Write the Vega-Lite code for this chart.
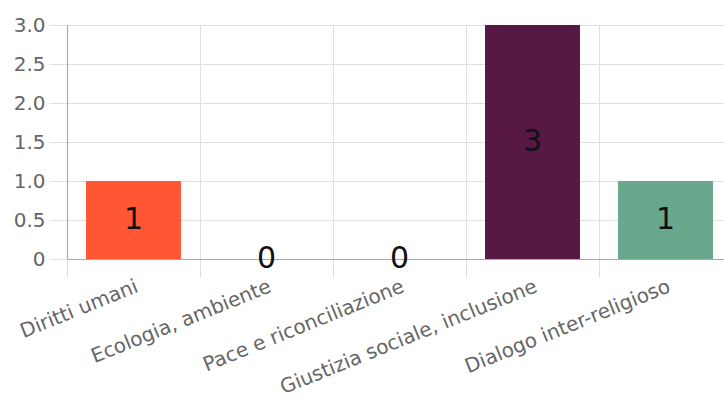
{
  "$schema": "https://vega.github.io/schema/vega-lite/v6.json",
  "autosize": {"type": "none"},
  "width": 665,
  "height": 234,
  "padding": {"left": 67, "top": 25, "right": 0, "bottom": 151},
  "background": "white",
  "config": {"view": {"stroke": null}, "font": "DejaVu Sans"},
  "data": {"values": [
    {"cat": "Diritti umani", "value": 1, "color": "#FF5733"},
    {"cat": "Ecologia, ambiente", "value": 0, "color": "#C70039"},
    {"cat": "Pace e riconciliazione", "value": 0, "color": "#900C3F"},
    {"cat": "Giustizia sociale, inclusione", "value": 3, "color": "#581845"},
    {"cat": "Dialogo inter-religioso", "value": 1, "color": "#6AA88E"}
  ]},
  "encoding": {
    "x": {"field": "cat", "type": "nominal", "sort": null,
      "scale": {"paddingInner": 0, "paddingOuter": 0},
      "axis": {"title": null, "bandPosition": 0,
        "labelAngle": -22, "labelAlign": "right", "labelBaseline": "top",
        "labelFontSize": 20, "labelColor": "#666", "labelPadding": -1,
        "labelLimit": 400, "labelOverlap": false, "labelBound": false,
        "tickSize": 18, "tickColor": "#dddddd", "grid": true, "gridColor": "#e0e0e0",
        "domainColor": "#aaaaaa", "domainWidth": 1.2}}
  },
  "layer": [
    {"mark": {"type": "bar", "width": {"band": 0.714}},
      "encoding": {
        "y": {"field": "value", "type": "quantitative",
          "scale": {"domain": [0, 3], "nice": false},
          "axis": {"title": null, "values": [0, 0.5, 1, 1.5, 2, 2.5, 3],
            "labelExpr": "datum.value == 0 ? '0' : format(datum.value, '.1f')",
            "labelOverlap": false,
            "labelFontSize": 20, "labelColor": "#666", "labelPadding": 4,
            "tickSize": 18, "tickColor": "#e0e0e0", "grid": true, "gridColor": "#e0e0e0",
            "domainColor": "#aaaaaa", "domainWidth": 1.2}},
        "color": {"field": "color", "type": "nominal", "scale": null, "legend": null}
      }},
    {"transform": [{"calculate": "datum.value / 2", "as": "mid"}],
      "mark": {"type": "text", "fontSize": 30, "baseline": "middle", "align": "center", "color": "#111"},
      "encoding": {
        "y": {"field": "mid", "type": "quantitative",
          "axis": {"title": null, "values": [0, 0.5, 1, 1.5, 2, 2.5, 3],
            "labelExpr": "datum.value == 0 ? '0' : format(datum.value, '.1f')",
            "labelOverlap": false,
            "labelFontSize": 20, "labelColor": "#666", "labelPadding": 4,
            "tickSize": 18, "tickColor": "#e0e0e0", "grid": true, "gridColor": "#e0e0e0",
            "domainColor": "#aaaaaa", "domainWidth": 1.2}},
        "text": {"field": "value", "type": "quantitative"}
      }}
  ]
}
